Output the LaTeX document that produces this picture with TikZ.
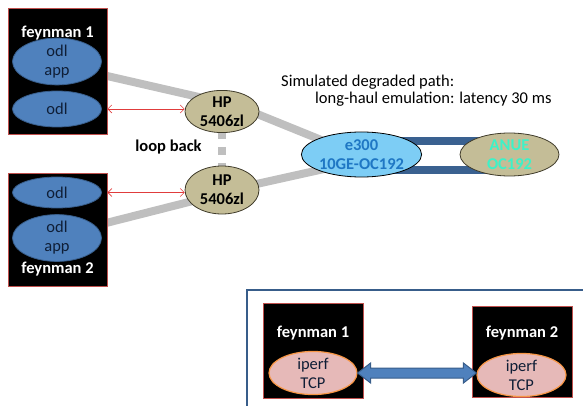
\documentclass[tikz,border=0pt]{standalone}
\usepackage{fontspec}
\setmainfont{Carlito}
\usetikzlibrary{calc,arrows.meta,backgrounds,positioning,shapes.geometric}

\newcommand{\slidefont}{\fontsize{16.5}{19}\selectfont}

\definecolor{odlblue}{HTML}{4F81BD}
\definecolor{odlrim}{HTML}{385D8A}
\definecolor{odltext}{HTML}{0F1E36}
\definecolor{hptan}{HTML}{C4BD97}
\definecolor{hprim}{HTML}{3F3B2A}
\definecolor{skyfill}{HTML}{7DCDF5}
\definecolor{skytext}{HTML}{1F77C4}
\definecolor{anuetext}{HTML}{3DF2C8}
\definecolor{linkgray}{HTML}{BFBFBF}
\definecolor{sonetblue}{HTML}{3A6190}
\definecolor{hostrim}{HTML}{C0504D}
\definecolor{iperfpink}{HTML}{E6B9B8}
\definecolor{iperfrim}{HTML}{F79646}
\definecolor{tapred}{HTML}{E03C3C}

\begin{document}
\begin{tikzpicture}[x=1pt,y=-1pt,font=\slidefont,
  host/.style={rectangle,draw=hostrim,line width=0.8pt,fill=black,inner sep=0pt},
  hostname/.style={text=white,font=\slidefont\bfseries,anchor=base,inner sep=0pt},
  odl/.style={ellipse,draw=odlrim,line width=0.8pt,fill=odlblue,text=odltext,
    align=center,inner sep=0pt,minimum width=89pt},
  switch/.style={ellipse,draw=hprim,line width=0.8pt,fill=hptan,align=center,
    inner sep=0pt,font=\slidefont\bfseries},
  iperf/.style={ellipse,draw=iperfrim,line width=1.2pt,fill=iperfpink,text=odltext,
    align=center,inner sep=0pt},
  link/.style={draw=linkgray,line width=8pt},
  sonet/.style={draw=sonetblue,line width=8pt},
  tap/.style={<->,>={Straight Barb[length=4pt,width=8pt]},draw=tapred,line width=0.6pt},
  bigarrow/.style={fill=odlblue,draw=odlrim,line width=1pt,line join=miter}]
  \useasboundingbox (0,0) rectangle (583,406);

  % test bed, upper left
  \node[host,minimum width=99pt,minimum height=126pt] (feyn1) at (57.5,71) {};
  \node[hostname] (name1) at (57.5,37.5) {feynman 1};
  \node[odl,minimum height=38pt] (app1) at (57,61.5) {odl\\app};
  \node[odl,minimum height=36pt] (odl1) at (57,109) {odl};

  \node[host,minimum width=99pt,minimum height=113pt] (feyn2) at (57.5,229.5) {};
  \node[odl,minimum height=31pt] (odl2) at (57,192.5) {odl};
  \node[odl,minimum height=40pt] (app2) at (57,238) {odl\\app};
  \node[hostname] (name2) at (57.5,273.5) {feynman 2};

  \node[switch,minimum width=74pt,minimum height=41pt] (hp1) at (222,111.5) {HP\\5406zl};
  \node[switch,minimum width=74pt,minimum height=48pt] (hp2) at (222,190) {HP\\5406zl};
  \node[font=\slidefont\bfseries,anchor=base,inner sep=0pt] (loop) at (168.5,152) {loop back};

  \node[ellipse,draw=black,line width=0.8pt,fill=skyfill,text=skytext,align=center,inner sep=0pt,
    font=\slidefont\bfseries,minimum width=111pt,minimum height=45pt] (e300) at (361.5,154.5) {e300\\10GE-OC192};
  \node[switch,text=anuetext,minimum width=99pt,minimum height=43pt] (anue) at (509.5,154.5) {ANUE\\OC192};

  \node[anchor=base west,inner sep=0pt] (simtxt) at (281,86.5) {Simulated degraded path:};
  \node[anchor=base west,inner sep=0pt] (haultxt) at (315,104) {long-haul emulation: latency 30 ms};

  \coordinate (port1) at ($(feyn1.north east)!0.54!(feyn1.south east)$);
  \coordinate (port2) at ($(feyn2.north east)!0.44!(feyn2.south east)$);

  \begin{pgfonlayer}{background}
  \path[link,shorten <=-2pt,shorten >=-6pt] (port1) -- (hp1.150);
  \path[link,shorten <=-6pt,shorten >=-6pt] (hp1.-5) -- (e300.160);
  \path[link,shorten <=-2pt,shorten >=-6pt] (port2) -- (hp2.200);
  \path[link,shorten <=-6pt,shorten >=-6pt] (hp2.10) -- (e300.200);
  \path[link,dash pattern=on 8pt off 8pt,dash phase=2pt] (hp1.south) -- (hp2.north);
  \path[sonet] ($(e300.center)+(0,-13.5)$) -- ($(anue.center)+(0,-13.5)$);
  \path[sonet] ($(e300.center)+(0,15.5)$) -- ($(anue.center)+(0,15.5)$);
  \end{pgfonlayer}

  \draw[tap] (odl1 -| feyn1.east) -- (odl1 -| hp1.west);
  \draw[tap] (odl2 -| feyn2.east) -- (odl2 -| hp2.west);

  % iperf test, lower right
  \draw[draw=odlrim,line width=1.2pt] (584,290) -| (247,407);
  \node[host,minimum width=100pt,minimum height=95pt] (tfeyn1) at (313,350.5) {};
  \node[hostname] (tname1) at (313,337) {feynman 1};
  \node[iperf,minimum width=88pt,minimum height=38pt] (ip1) at (313,373) {iperf\\TCP};
  \node[host,minimum width=100pt,minimum height=91pt] (tfeyn2) at (522,351.5) {};
  \node[hostname] (tname2) at (522,337) {feynman 2};
  \node[iperf,minimum width=89pt,minimum height=40pt] (ip2) at (521.5,375) {iperf\\TCP};

  \coordinate (tipL) at (ip1.east);
  \coordinate (tipR) at (ip1.east -| ip2.west);
  \draw[bigarrow] (tipL) -- ++(13,-10) -- ++(0,5) -- ($(tipR)+(-13,-5)$) -- ++(0,-5) -- (tipR)
    -- ++(-13,10) -- ++(0,-5) -- ($(tipL)+(13,5)$) -- ++(0,5) -- cycle;
\end{tikzpicture}
\end{document}
